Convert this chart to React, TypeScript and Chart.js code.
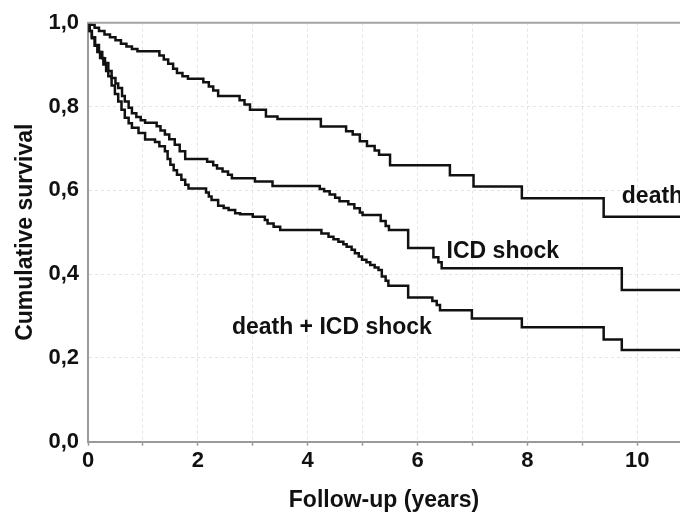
import React, { useEffect, useRef } from "react";
import { Chart, registerables } from "chart.js";

Chart.register(...registerables);

// ---- Data ----
const deathTimes = [0, 0.05, 0.12, 0.2, 0.3, 0.4, 0.5, 0.6, 0.7, 0.8, 0.9, 1.3, 1.38, 1.46, 1.55, 1.62, 1.72, 1.82, 2.1, 2.2, 2.28, 2.37, 2.76, 2.85, 2.95, 3.24, 3.45, 4.24, 4.7, 4.82, 4.95, 5.08, 5.22, 5.3, 5.5, 6.59, 7.02, 7.9, 9.39, 10.78];
const deathSurv = [1, 0.995, 0.988, 0.98, 0.972, 0.965, 0.958, 0.95, 0.943, 0.937, 0.932, 0.922, 0.912, 0.902, 0.89, 0.88, 0.872, 0.866, 0.858, 0.848, 0.838, 0.825, 0.815, 0.805, 0.792, 0.776, 0.77, 0.752, 0.741, 0.733, 0.717, 0.706, 0.695, 0.685, 0.66, 0.636, 0.609, 0.581, 0.537, 0.537];

const icdTimes = [0, 0.03, 0.07, 0.13, 0.2, 0.26, 0.31, 0.37, 0.43, 0.5, 0.55, 0.62, 0.67, 0.74, 0.8, 0.88, 0.96, 1.04, 1.25, 1.32, 1.4, 1.48, 1.58, 1.67, 1.77, 2.17, 2.28, 2.35, 2.45, 2.55, 2.62, 3.04, 3.36, 4.22, 4.3, 4.4, 4.5, 4.58, 4.74, 4.85, 4.95, 5.0, 5.33, 5.42, 5.48, 5.83, 6.29, 6.38, 6.44, 9.72, 10.78];
const icdSurv = [1, 0.98, 0.965, 0.947, 0.93, 0.915, 0.904, 0.885, 0.868, 0.855, 0.844, 0.825, 0.812, 0.797, 0.784, 0.775, 0.767, 0.761, 0.753, 0.743, 0.733, 0.722, 0.709, 0.693, 0.675, 0.668, 0.66, 0.652, 0.645, 0.637, 0.629, 0.621, 0.61, 0.603, 0.598, 0.59, 0.582, 0.574, 0.567, 0.557, 0.547, 0.541, 0.527, 0.515, 0.505, 0.462, 0.44, 0.428, 0.414, 0.362, 0.362];

const bothTimes = [0, 0.03, 0.07, 0.12, 0.17, 0.22, 0.28, 0.33, 0.37, 0.43, 0.49, 0.55, 0.61, 0.67, 0.74, 0.8, 0.92, 1.04, 1.22, 1.3, 1.4, 1.45, 1.5, 1.56, 1.62, 1.7, 1.77, 1.83, 2.15, 2.2, 2.25, 2.37, 2.47, 2.56, 2.68, 2.77, 3.0, 3.22, 3.27, 3.38, 3.5, 4.25, 4.38, 4.47, 4.56, 4.65, 4.71, 4.8, 4.86, 4.93, 4.99, 5.07, 5.14, 5.22, 5.29, 5.35, 5.42, 5.47, 5.83, 6.27, 6.35, 6.41, 6.99, 7.9, 9.39, 9.72, 10.78];
const bothSurv = [1, 0.98, 0.963, 0.945, 0.93, 0.916, 0.9, 0.885, 0.872, 0.85, 0.83, 0.812, 0.792, 0.773, 0.76, 0.749, 0.737, 0.721, 0.715, 0.705, 0.693, 0.675, 0.661, 0.648, 0.637, 0.625, 0.613, 0.604, 0.595, 0.585, 0.577, 0.563, 0.558, 0.553, 0.545, 0.543, 0.537, 0.529, 0.521, 0.513, 0.505, 0.497, 0.489, 0.483, 0.477, 0.471, 0.465, 0.458, 0.45, 0.442, 0.434, 0.428, 0.422, 0.416, 0.41, 0.394, 0.384, 0.372, 0.344, 0.336, 0.326, 0.314, 0.294, 0.273, 0.244, 0.219, 0.219];

const xTickValues = [0, 1, 2, 3, 4, 5, 6, 7, 8, 9, 10];
const xTickLabels = ["0", "", "2", "", "4", "", "6", "", "8", "", "10"];
const yTickValues = [0, 0.2, 0.4, 0.6, 0.8, 1.0];
const yTickLabels = ["0,0", "0,2", "0,4", "0,6", "0,8", "1,0"];
const xMax = 10.78;

const curveLabels = ["death", "ICD shock", "death + ICD shock"];
const curveLabelX = [9.72, 6.53, 2.62];
const curveLabelY = [0.586, 0.453, 0.271];

const xTitle = "Follow-up (years)";
const yTitle = "Cumulative survival";

const FONT_FAMILY = '"Liberation Sans", Arial, sans-serif';

const toPoints = (t: number[], s: number[]) => t.map((v, i) => ({ x: v, y: s[i] }));

const overlayPlugin = {
  id: "overlay",
  afterDatasetsDraw(chart: any) {
    const { ctx, chartArea, scales } = chart;
    const xs = scales.x;
    const ys = scales.y;
    ctx.save();
    ctx.strokeStyle = "#a3a3a3";
    ctx.lineWidth = 2;
    ctx.beginPath();
    ctx.moveTo(chartArea.left, chartArea.top);
    ctx.lineTo(chartArea.right, chartArea.top);
    ctx.stroke();
    ctx.font = `bold 23px ${FONT_FAMILY}`;
    ctx.fillStyle = "#111";
    ctx.textBaseline = "middle";
    ctx.textAlign = "left";
    curveLabels.forEach((txt, i) => {
      ctx.fillText(txt, xs.getPixelForValue(curveLabelX[i]), ys.getPixelForValue(curveLabelY[i]));
    });
    ctx.restore();
  },
};

export default function App() {
  const canvasRef = useRef<HTMLCanvasElement | null>(null);

  useEffect(() => {
    if (!canvasRef.current) return;
    const lineStyle = {
      borderColor: "#111",
      borderWidth: 2.5,
      pointRadius: 0,
      stepped: "before" as const,
      fill: false,
      tension: 0,
    };
    const tickFont = { family: FONT_FAMILY, size: 22, weight: "bold" as const };
    const titleFont = { family: FONT_FAMILY, size: 23, weight: "bold" as const };
    const chart = new Chart(canvasRef.current, {
      type: "line",
      data: {
        datasets: [
          { label: curveLabels[0], data: toPoints(deathTimes, deathSurv), ...lineStyle },
          { label: curveLabels[1], data: toPoints(icdTimes, icdSurv), ...lineStyle },
          { label: curveLabels[2], data: toPoints(bothTimes, bothSurv), ...lineStyle },
        ],
      },
      options: {
        animation: false,
        responsive: false,
        devicePixelRatio: 1,
        layout: { padding: { top: 22.7, right: 0, bottom: 0, left: 0 } },
        plugins: { legend: { display: false }, tooltip: { enabled: false } },
        scales: {
          x: {
            type: "linear",
            min: 0,
            max: xMax,
            afterBuildTicks: (s: any) => {
              s.ticks = xTickValues.map((v) => ({ value: v }));
            },
            afterFit: (s: any) => {
              s.height = 72.3;
            },
            ticks: {
              autoSkip: false,
              maxRotation: 0,
              padding: 2,
              color: "#111",
              font: tickFont,
              callback: (_v: any, i: number) => xTickLabels[i],
            },
            grid: {
              color: "#e4e4e4",
              lineWidth: 1,
              drawTicks: true,
              tickLength: 4,
              tickColor: "#9a9a9a",
              tickWidth: 1.5,
            },
            border: { color: "#9a9a9a", width: 2, dash: [3, 3] },
            title: {
              display: true,
              text: xTitle,
              color: "#111",
              font: titleFont,
              padding: { top: 0, bottom: 0 },
            },
          },
          y: {
            type: "linear",
            min: 0,
            max: 1,
            afterBuildTicks: (s: any) => {
              s.ticks = yTickValues.map((v) => ({ value: v }));
            },
            afterFit: (s: any) => {
              s.width = 88;
            },
            ticks: {
              padding: 9,
              color: "#111",
              font: tickFont,
              callback: (_v: any, i: number) => yTickLabels[i],
            },
            grid: { color: "#e4e4e4", lineWidth: 1, drawTicks: false },
            border: { color: "#9a9a9a", width: 2, dash: [3, 3] },
            title: {
              display: true,
              text: yTitle,
              color: "#111",
              font: titleFont,
              padding: { top: 12, bottom: 0 },
            },
          },
        },
      },
      plugins: [overlayPlugin],
    } as any);
    return () => chart.destroy();
  }, []);

  return (
    <div style={{ position: "absolute", left: 0, top: 0, width: 680, height: 514, background: "#fff" }}>
      <canvas ref={canvasRef} width={680} height={514} style={{ display: "block" }} />
    </div>
  );
}
